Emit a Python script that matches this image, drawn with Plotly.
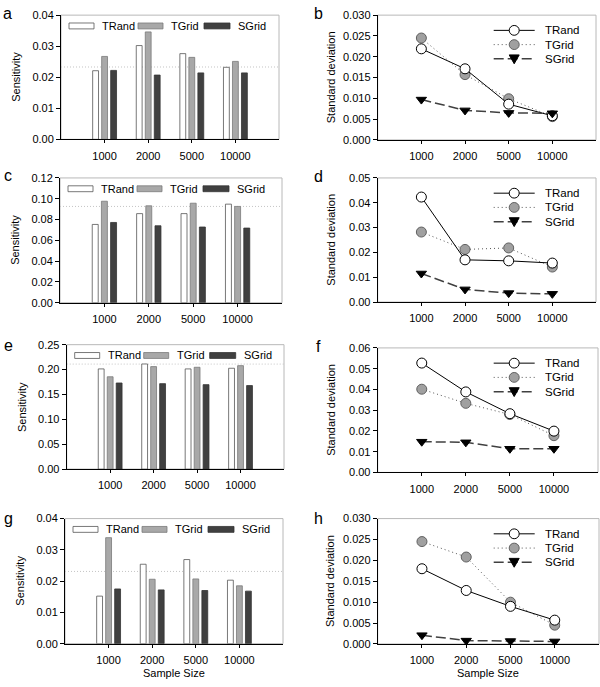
import plotly.graph_objects as go

W, H = 600, 687

sample_sizes = ["1000", "2000", "5000", "10000"]
series_names = ["TRand", "TGrid", "SGrid"]

# Sensitivity (bar panels a, c, e, g)
a_trand = [0.0221, 0.0302, 0.0276, 0.0232]
a_tgrid = [0.0267, 0.0346, 0.0264, 0.0251]
a_sgrid = [0.0222, 0.0207, 0.0214, 0.0214]
c_trand = [0.0753, 0.0857, 0.0857, 0.0948]
c_tgrid = [0.0976, 0.0932, 0.0957, 0.0926]
c_sgrid = [0.0772, 0.0740, 0.0728, 0.0718]
e_trand = [0.2013, 0.2112, 0.2013, 0.2026]
e_tgrid = [0.1855, 0.2059, 0.2046, 0.2079]
e_sgrid = [0.1730, 0.1717, 0.1697, 0.1678]
g_trand = [0.0152, 0.0254, 0.0269, 0.0203]
g_tgrid = [0.0339, 0.0206, 0.0207, 0.0185]
g_sgrid = [0.0175, 0.0172, 0.0170, 0.0168]
# dotted reference levels in bar panels
ref_levels = {"a": 0.0233, "c": 0.0926, "e": 0.211, "g": 0.0231}

# Standard deviation (line panels b, d, f, h)
b_trand = [0.0219, 0.0171, 0.0086, 0.0058]
b_tgrid = [0.0245, 0.0157, 0.0099, 0.0056]
b_sgrid = [0.0097, 0.0071, 0.0065, 0.0064]
d_trand = [0.0423, 0.0170, 0.0166, 0.0157]
d_tgrid = [0.0282, 0.0212, 0.0218, 0.0141]
d_sgrid = [0.0115, 0.0051, 0.0036, 0.0033]
f_trand = [0.0527, 0.0388, 0.0283, 0.0199]
f_tgrid = [0.0401, 0.0333, 0.0279, 0.0177]
f_sgrid = [0.0148, 0.0145, 0.0114, 0.0114]
h_trand = [0.0180, 0.0128, 0.0090, 0.0057]
h_tgrid = [0.0245, 0.0208, 0.0100, 0.0045]
h_sgrid = [0.0021, 0.0008, 0.0007, 0.0006]

y_ranges = {"a": 0.04, "b": 0.03, "c": 0.12, "d": 0.05,
            "e": 0.25, "f": 0.06, "g": 0.04, "h": 0.03}
y_dticks = {"a": 0.01, "b": 0.005, "c": 0.02, "d": 0.01,
            "e": 0.05, "f": 0.01, "g": 0.01, "h": 0.005}
y_formats = {"a": ".2f", "b": ".3f", "c": ".2f", "d": ".2f",
             "e": ".2f", "f": ".2f", "g": ".2f", "h": ".3f"}

bar_data = {"a": (a_trand, a_tgrid, a_sgrid), "c": (c_trand, c_tgrid, c_sgrid),
            "e": (e_trand, e_tgrid, e_sgrid), "g": (g_trand, g_tgrid, g_sgrid)}
line_data = {"b": (b_trand, b_tgrid, b_sgrid), "d": (d_trand, d_tgrid, d_sgrid),
             "f": (f_trand, f_tgrid, f_sgrid), "h": (h_trand, h_tgrid, h_sgrid)}

# plot boxes in pixels: left, right, top, bottom
boxes = {
    "a": (61, 279, 9.3, 135.7),
    "b": (377.7, 596, 9.3, 136.3),
    "c": (60, 282, 175, 302),
    "d": (377.7, 596, 175, 301.3),
    "e": (66.7, 284, 344.7, 471.3),
    "f": (377.7, 598, 348, 474.7),
    "g": (65, 283, 521.7, 649),
    "h": (377.7, 599, 521.7, 649.3),
}
label_pos = {"a": (1, 8), "b": (312, 8), "c": (2, 173), "d": (312, 174),
             "e": (2, 346), "f": (314, 347), "g": (2, 522), "h": (312, 522)}

FONT = "Liberation Sans, Arial, sans-serif"

def px(x):
    return x / W

def py(y):
    return 1 - y / H

bar_fill = ["#ffffff", "#a8a8a8", "#404040"]
bar_edge = ["#555555", "#7a7a7a", "#333333"]

fig = go.Figure()
shapes = []
annotations = []
layout = {}

for i, key in enumerate(["a", "b", "c", "d", "e", "f", "g", "h"]):
    n = i + 1
    xa = "x" if n == 1 else f"x{n}"
    ya = "y" if n == 1 else f"y{n}"
    xl = "xaxis" if n == 1 else f"xaxis{n}"
    yl = "yaxis" if n == 1 else f"yaxis{n}"
    L, R, T, B = boxes[key]
    layout[xl] = dict(
        domain=[px(L), px(R)], anchor=ya, type="category",
        range=[-1, 4], showline=True, linecolor="#000000", linewidth=1,
        ticks="outside", ticklen=3, tickcolor="#000000", showgrid=False,
        zeroline=False, tickfont=dict(family=FONT, size=11, color="#000"),
        ticklabelstandoff=3, fixedrange=True,
    )
    layout[yl] = dict(
        domain=[py(B), py(T)], anchor=xa, range=[0, y_ranges[key]],
        dtick=y_dticks[key], tick0=0, tickformat=y_formats[key],
        showline=True, linecolor="#000000", linewidth=1, ticks="outside",
        ticklen=4, tickcolor="#000000", showgrid=False, zeroline=False,
        tickfont=dict(family=FONT, size=11, color="#000"), fixedrange=True,
    )
    # light frame
    shapes.append(dict(type="rect", xref="paper", yref="paper",
                       x0=px(L), x1=px(R), y0=py(B), y1=py(T),
                       line=dict(color="#b8b8b8", width=1), layer="below"))
    # panel letter
    lx, ly = label_pos[key]
    annotations.append(dict(text=key, x=px(lx), y=py(ly), xref="paper", yref="paper",
                            xanchor="left", yanchor="middle", showarrow=False,
                            font=dict(family=FONT, size=16, color="#000")))
    if key in bar_data:
        for s, vals in enumerate(bar_data[key]):
            fig.add_trace(go.Bar(
                x=sample_sizes, y=vals, name=series_names[s], xaxis=xa, yaxis=ya,
                marker=dict(color=bar_fill[s], line=dict(color=bar_edge[s], width=0.8)),
                showlegend=False,
            ))
        shapes.append(dict(type="line", xref=f"{xa} domain", yref=ya,
                           x0=0, x1=1, y0=ref_levels[key], y1=ref_levels[key],
                           line=dict(color="#c4c4c4", width=1, dash="1px,2px"),
                           layer="below"))
        annotations.append(dict(text="Sensitivity", textangle=-90,
                                x=px(L - 44.5), y=py((T + B) / 2), xref="paper", yref="paper",
                                xanchor="center", yanchor="middle", showarrow=False,
                                font=dict(family=FONT, size=11, color="#000")))
        # legend (swatches + text)
        sw = [(8, 33), (77, 102), (143, 169)]
        yc = T + 11
        for s in range(3):
            x0, x1 = sw[s]
            shapes.append(dict(type="rect", xref="paper", yref="paper",
                               x0=px(L + x0), x1=px(L + x1), y0=py(yc + 3), y1=py(yc - 3),
                               fillcolor=bar_fill[s], line=dict(color=bar_edge[s], width=0.8)))
            annotations.append(dict(text=series_names[s], x=px(L + x1 + 6), y=py(yc),
                                    xref="paper", yref="paper", xanchor="left",
                                    yanchor="middle", showarrow=False,
                                    font=dict(family=FONT, size=11, color="#000")))
    else:
        tr, tg, sg = line_data[key]
        fig.add_trace(go.Scatter(
            x=sample_sizes, y=tg, name="TGrid", xaxis=xa, yaxis=ya, mode="lines+markers",
            line=dict(color="#555555", width=1, dash="1px,3px"),
            marker=dict(symbol="circle", size=10, color="#a0a0a0",
                        line=dict(color="#606060", width=1)), showlegend=False))
        fig.add_trace(go.Scatter(
            x=sample_sizes, y=tr, name="TRand", xaxis=xa, yaxis=ya, mode="lines+markers",
            line=dict(color="#000000", width=1),
            marker=dict(symbol="circle", size=10, color="#ffffff",
                        line=dict(color="#000000", width=1)), showlegend=False))
        fig.add_trace(go.Scatter(
            x=sample_sizes, y=sg, name="SGrid", xaxis=xa, yaxis=ya, mode="lines+markers",
            line=dict(color="#404040", width=1.5, dash="10px,4px"),
            marker=dict(symbol="triangle-down", size=9, color="#000000",
                        line=dict(color="#000000", width=1)), showlegend=False))
        annotations.append(dict(text="Standard deviation", textangle=-90,
                                x=px(L - 47), y=py((T + B) / 2), xref="paper", yref="paper",
                                xanchor="center", yanchor="middle", showarrow=False,
                                font=dict(family=FONT, size=11, color="#000")))
        # legend
        styles = [("#000000", 1, "solid"), ("#555555", 1, "1px,3px"), ("#404040", 1.5, "10px,4px")]
        for s in range(3):
            yc = T + 15.5 + 14.5 * s
            col, wd, dsh = styles[s]
            shapes.append(dict(type="line", xref="paper", yref="paper",
                               x0=px(L + 116), x1=px(L + 157), y0=py(yc), y1=py(yc),
                               line=dict(color=col, width=wd, dash=dsh)))
            cx = L + 136.5
            if s == 0:
                shapes.append(dict(type="circle", xref="paper", yref="paper",
                                   x0=px(cx - 5), x1=px(cx + 5), y0=py(yc + 5), y1=py(yc - 5),
                                   fillcolor="#ffffff", line=dict(color="#000", width=1)))
            elif s == 1:
                shapes.append(dict(type="circle", xref="paper", yref="paper",
                                   x0=px(cx - 5), x1=px(cx + 5), y0=py(yc + 5), y1=py(yc - 5),
                                   fillcolor="#a0a0a0", line=dict(color="#606060", width=1)))
            else:
                shapes.append(dict(type="path", xref="paper", yref="paper",
                                   path=f"M {px(cx-5)},{py(yc-4)} L {px(cx+5)},{py(yc-4)} L {px(cx)},{py(yc+5)} Z",
                                   fillcolor="#000000", line=dict(color="#000", width=1)))
            annotations.append(dict(text=series_names[s], x=px(L + 165), y=py(yc),
                                    xref="paper", yref="paper", xanchor="left",
                                    yanchor="middle", showarrow=False,
                                    font=dict(family=FONT, size=11.5, color="#000")))

# x-axis titles on the bottom row
for key in ["g", "h"]:
    L, R, T, B = boxes[key]
    annotations.append(dict(text="Sample Size", x=px((L + R) / 2), y=py(678.5),
                            xref="paper", yref="paper", xanchor="center", yanchor="middle",
                            showarrow=False, font=dict(family=FONT, size=11, color="#000")))

fig.update_layout(
    width=W, height=H, margin=dict(l=0, r=0, t=0, b=0),
    paper_bgcolor="#ffffff", plot_bgcolor="#ffffff",
    barmode="group", bargap=0.38, bargroupgap=0.35,
    shapes=shapes, annotations=annotations, showlegend=False,
    font=dict(family=FONT, color="#000"),
    **layout,
)

fig.write_html(
    "out.html",
    config={"displayModeBar": False},
    post_script="document.documentElement.style.margin='0';document.body.style.margin='0';"
                "document.body.style.padding='0';document.body.style.overflow='hidden';",
)
